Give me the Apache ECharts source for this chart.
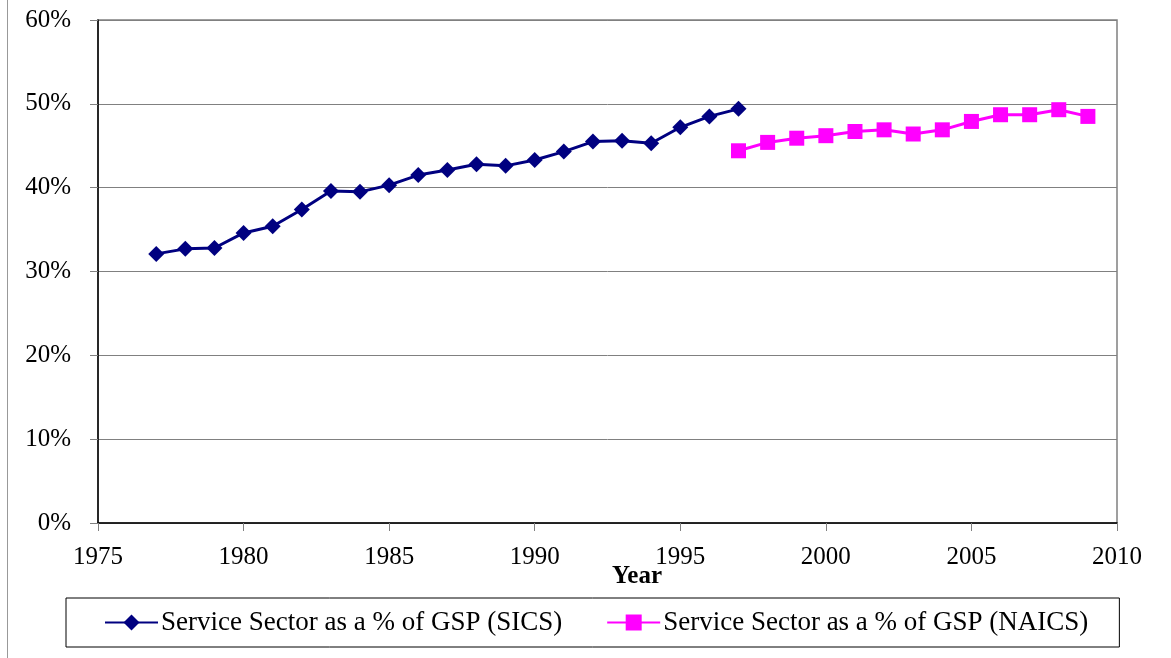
<!DOCTYPE html>
<html>
<head>
<meta charset="utf-8">
<script src="https://cdn.jsdelivr.net/npm/echarts@6/dist/echarts.min.js"></script>
<style>
  html, body { margin: 0; padding: 0; background: #fff; }
  #chart { width: 1171px; height: 658px; }
</style>
</head>
<body>
<div id="chart"></div>
<script>
  // SIC based years and values (%)
  var sicsYears = [1977, 1978, 1979, 1980, 1981, 1982, 1983, 1984, 1985, 1986, 1987,
                   1988, 1989, 1990, 1991, 1992, 1993, 1994, 1995, 1996, 1997];
  var sicsValues = [32.1, 32.7, 32.8, 34.6, 35.4, 37.4, 39.6, 39.5, 40.3, 41.5, 42.1,
                    42.8, 42.6, 43.3, 44.3, 45.5, 45.6, 45.3, 47.2, 48.5, 49.4];
  // NAICS based years and values (%)
  var naicsYears = [1997, 1998, 1999, 2000, 2001, 2002, 2003, 2004, 2005, 2006, 2007, 2008, 2009];
  var naicsValues = [44.4, 45.4, 45.9, 46.2, 46.7, 46.9, 46.4, 46.9, 47.9, 48.7, 48.7, 49.3, 48.5];

  var seriesNames = ['Service Sector as a % of GSP (SICS)', 'Service Sector as a % of GSP (NAICS)'];

  function pairs(xs, ys) {
    return xs.map(function (x, i) { return [x, ys[i]]; });
  }

  var font = 'Liberation Serif';
  var chart = echarts.init(document.getElementById('chart'));

  chart.setOption({
    animation: false,
    textStyle: { fontFamily: font, color: '#000' },
    graphic: [
      { type: 'line', shape: { x1: 7.5, y1: 0, x2: 7.5, y2: 658 }, style: { stroke: '#999', lineWidth: 1 } },
      { type: 'text', left: 612, top: 564,
        style: { text: 'Year', font: 'bold 25px "Liberation Serif"', fill: '#000' } }
    ],
    grid: {
      left: 98, right: 54, top: 20, bottom: 135,
      show: true, borderColor: '#808080', borderWidth: 1.5
    },
    legend: {
      left: 66, top: 598,
      padding: [11, 31, 11, 38],
      borderColor: '#000', borderWidth: 1,
      itemWidth: 53, itemHeight: 20, itemGap: 44,
      textStyle: { fontFamily: font, fontSize: 27, color: '#000', padding: [0, 0, 0, -2] },
      data: seriesNames
    },
    xAxis: {
      type: 'value', min: 1975, max: 2010, interval: 5,
      axisLine: { lineStyle: { color: '#000', width: 1.5 } },
      axisTick: { length: 8, lineStyle: { color: '#808080' } },
      axisLabel: { margin: 22, fontSize: 25, color: '#000', fontFamily: font,
                   formatter: function (v) { return String(v); } },
      splitLine: { show: false }
    },
    yAxis: {
      type: 'value', min: 0, max: 60, interval: 10,
      axisLine: { show: true, lineStyle: { color: '#000', width: 1.5 } },
      axisTick: { show: true, length: 8, lineStyle: { color: '#808080' } },
      axisLabel: { margin: 27, fontSize: 25, color: '#000', fontFamily: font, formatter: '{value}%' },
      splitLine: { lineStyle: { color: '#808080', width: 1 } }
    },
    series: [
      {
        name: seriesNames[0], type: 'line',
        data: pairs(sicsYears, sicsValues),
        symbol: 'diamond', symbolSize: 16,
        lineStyle: { color: '#000080', width: 3 },
        itemStyle: { color: '#000080' }
      },
      {
        name: seriesNames[1], type: 'line',
        data: pairs(naicsYears, naicsValues),
        symbol: 'rect', symbolSize: 15,
        lineStyle: { color: '#ff00ff', width: 3 },
        itemStyle: { color: '#ff00ff' }
      }
    ]
  });
</script>
</body>
</html>
